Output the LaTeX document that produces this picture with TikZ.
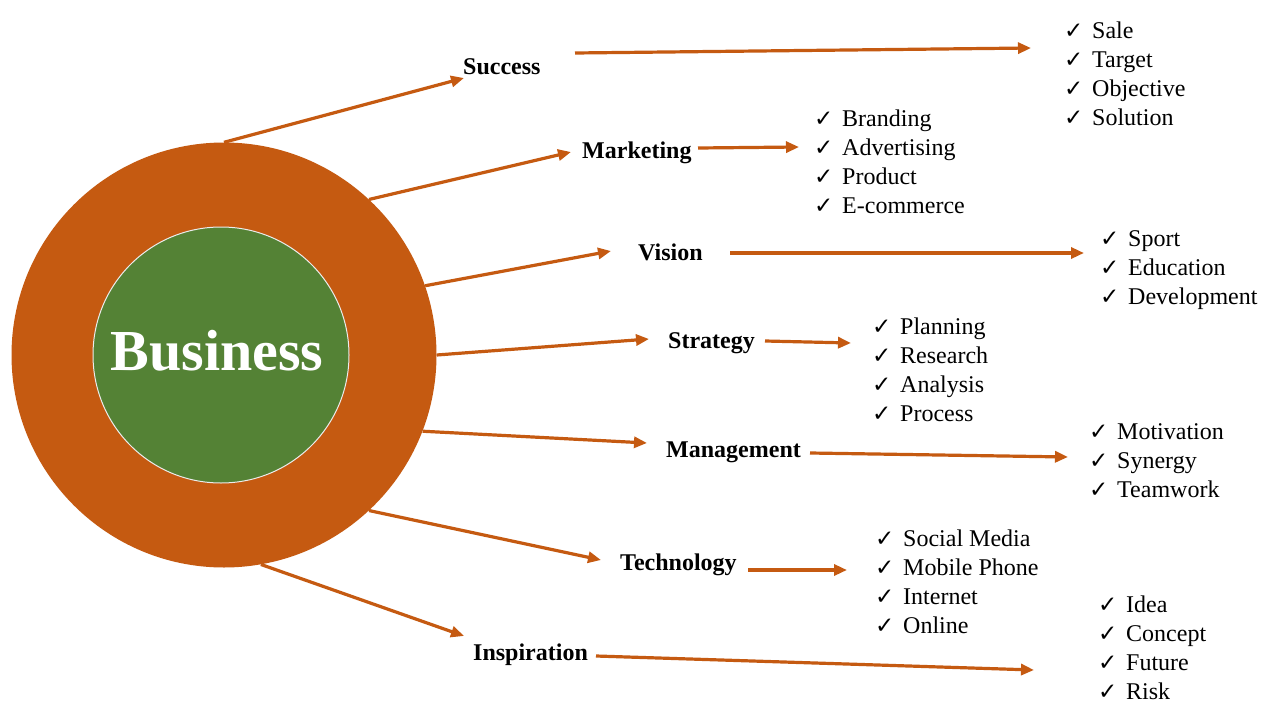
\documentclass[tikz,border=0pt]{standalone}
\usepackage{fontspec}
\setmainfont{Liberation Serif}
\newfontfamily\symfont{DejaVu Sans}
\usetikzlibrary{arrows.meta}
\definecolor{bizorange}{HTML}{C55A11}
\definecolor{bizgreen}{HTML}{548235}
\newcommand\chk{\makebox[28pt][l]{\symfont\fontsize{23}{23}\selectfont ✓}}
\tikzset{
  lbl/.style={anchor=base west, inner sep=0pt, font=\bfseries\fontsize{24}{29}\selectfont},
  itm/.style={anchor=base west, inner sep=0pt, font=\fontsize{24}{29}\selectfont},
  arr/.style={draw=bizorange, line width=3.2pt, -{Triangle[length=13pt,width=11pt]}}
}
\begin{document}
\begin{tikzpicture}[x=1pt,y=-1pt]
\useasboundingbox[fill=white] (0,0) rectangle (1280,720);
% circles
\node[circle, fill=bizorange, minimum size=425pt, inner sep=0pt] (outer) at (224,355) {};
\node[circle, fill=bizgreen, draw=white!85!gray, line width=1pt, minimum size=256pt, inner sep=0pt] (inner) at (221,355) {};
\node[anchor=base, inner sep=0pt, text=white, font=\bfseries\fontsize{58}{58}\selectfont] (biz) at (217,370) {Business};
% labels
\node[lbl] (succ) at (463,74) {Success};
\node[lbl] (mark) at (582,158) {Marketing};
\node[lbl] (vis) at (638,260) {Vision};
\node[lbl] (strat) at (668,348) {Strategy};
\node[lbl] (mgmt) at (666,457) {Management};
\node[lbl] (tech) at (620,570) {Technology};
\node[lbl] (insp) at (473,660) {Inspiration};
% lists
\foreach \t [count=\i] in {Sale,Target,Objective,Solution}
  \node[itm] (sa\i) at (1064,{38+29*(\i-1)}) {\chk\t};
\foreach \t [count=\i] in {Branding,Advertising,Product,E-commerce}
  \node[itm] (ma\i) at (814,{126+29*(\i-1)}) {\chk\t};
\foreach \t [count=\i] in {Sport,Education,Development}
  \node[itm] (vi\i) at (1100,{246+29*(\i-1)}) {\chk\t};
\foreach \t [count=\i] in {Planning,Research,Analysis,Process}
  \node[itm] (st\i) at (872,{334+29*(\i-1)}) {\chk\t};
\foreach \t [count=\i] in {Motivation,Synergy,Teamwork}
  \node[itm] (mg\i) at (1089,{439+29*(\i-1)}) {\chk\t};
\foreach \t [count=\i] in {Social Media,Mobile Phone,Internet,Online}
  \node[itm] (te\i) at (875,{546+29*(\i-1)}) {\chk\t};
\foreach \t [count=\i] in {Idea,Concept,Future,Risk}
  \node[itm] (in\i) at (1098,{612+29*(\i-1)}) {\chk\t};
% arrow end coordinates
\coordinate (t1) at (464,78);
\coordinate (t3) at (571,152);
\coordinate (t5) at (611,251);
\coordinate (t7) at (649,339);
\coordinate (t9) at (647,443);
\coordinate (t11) at (601,560);
\coordinate (t13) at (464,636);
\coordinate (s2) at (575,53);   \coordinate (e2) at (1031,48);
\coordinate (s4) at (698,148);  \coordinate (e4) at (799,147);
\coordinate (s6) at (730,253);  \coordinate (e6) at (1084,253);
\coordinate (s8) at (765,341);  \coordinate (e8) at (851,343);
\coordinate (s10) at (810,453); \coordinate (e10) at (1068,457);
\coordinate (s12) at (748,570); \coordinate (e12) at (847,570);
\coordinate (s14) at (596,656); \coordinate (e14) at (1034,670);
% arrows from circle
\draw[arr] (outer.90) -- (t1);
\draw[arr] (outer.47) -- (t3);
\draw[arr] (outer.19.6) -- (t5);
\draw[arr] (outer.-0.3) -- (t7);
\draw[arr] (outer.-21.5) -- (t9);
\draw[arr] (outer.-47.5) -- (t11);
\draw[arr] (outer.-80.7) -- (t13);
% arrows from labels
\draw[arr] (s2) -- (e2);
\draw[arr] (s4) -- (e4);
\draw[arr] (s6) -- (e6);
\draw[arr] (s8) -- (e8);
\draw[arr] (s10) -- (e10);
\draw[arr] (s12) -- (e12);
\draw[arr] (s14) -- (e14);
\end{tikzpicture}
\end{document}
